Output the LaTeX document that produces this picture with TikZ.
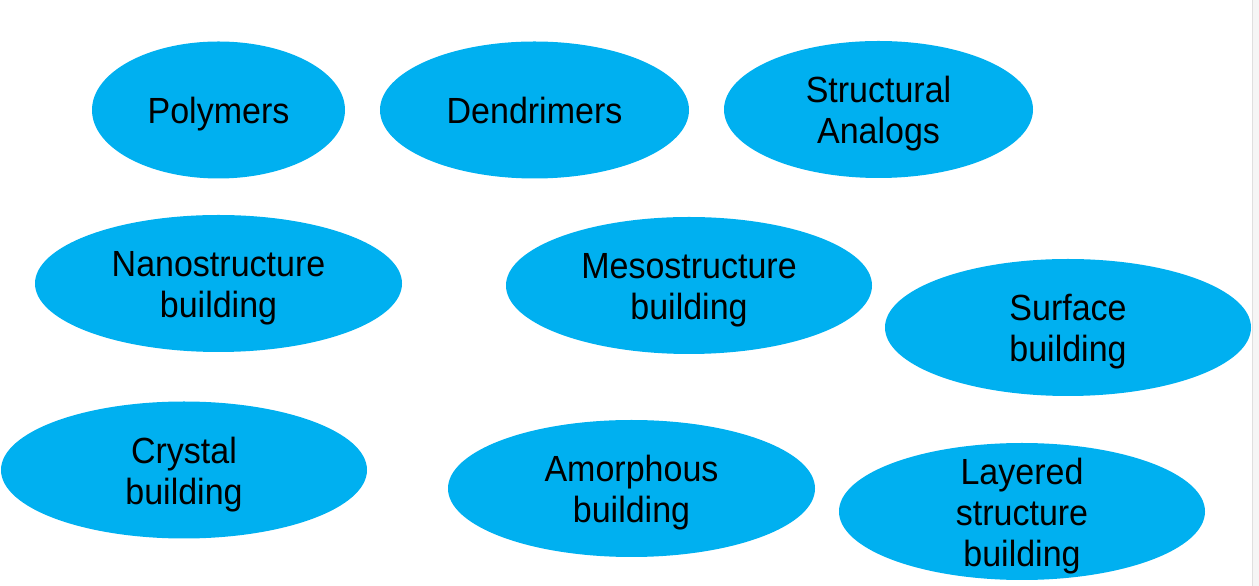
\documentclass[tikz,border=0pt]{standalone}
\usepackage{fontspec}
\setmainfont{Liberation Sans}
\usetikzlibrary{shapes.geometric}

\definecolor{blobcyan}{HTML}{00B0F0}

\begin{document}
\begin{tikzpicture}[x=1pt, y=1pt,
  blob/.style={ellipse, fill=blobcyan, draw=none, inner sep=0pt,
    minimum height=137pt},
  txt/.style={align=center, text=black, inner sep=0pt, yshift=-4.5pt, text depth=7.2pt,
    yscale=1.07, transform shape, font=\fontsize{34}{38.3}\selectfont}]
  \useasboundingbox (0,0) rectangle (1259,586);
  \fill[gray!8] (1252,0) rectangle (1259,586);
  \draw[gray!25, line width=1pt] (1252.5,0) -- (1252.5,586);

  % top row
  \node[blob, minimum width=253pt, label={[txt]center:Polymers}] (poly) at (218.5,476) {};
  \node[blob, minimum width=309pt, label={[txt]center:Dendrimers}] (dend) at (534.5,476) {};
  \node[blob, minimum width=309pt, label={[txt]center:Structural\\Analogs}] (analog) at (878.5,476.5) {};
  % middle row
  \node[blob, minimum width=367pt, label={[txt]center:Nanostructure\\building}] (nano) at (218.5,302.5) {};
  \node[blob, minimum width=366pt, label={[txt]center:Mesostructure\\building}] (meso) at (689,300.5) {};
  \node[blob, minimum width=366pt, label={[txt]center:Surface\\building}] (surf) at (1068,258.5) {};
  % bottom row
  \node[blob, minimum width=366pt, label={[txt]center:Crystal\\building}] (cryst) at (184,116) {};
  \node[blob, minimum width=367pt, label={[txt]center:Amorphous\\building}] (amorph) at (631.5,97.5) {};
  \node[blob, minimum width=366pt, label={[txt]center:Layered\\structure\\building}] (layer) at (1022,74.5) {};
\end{tikzpicture}
\end{document}
